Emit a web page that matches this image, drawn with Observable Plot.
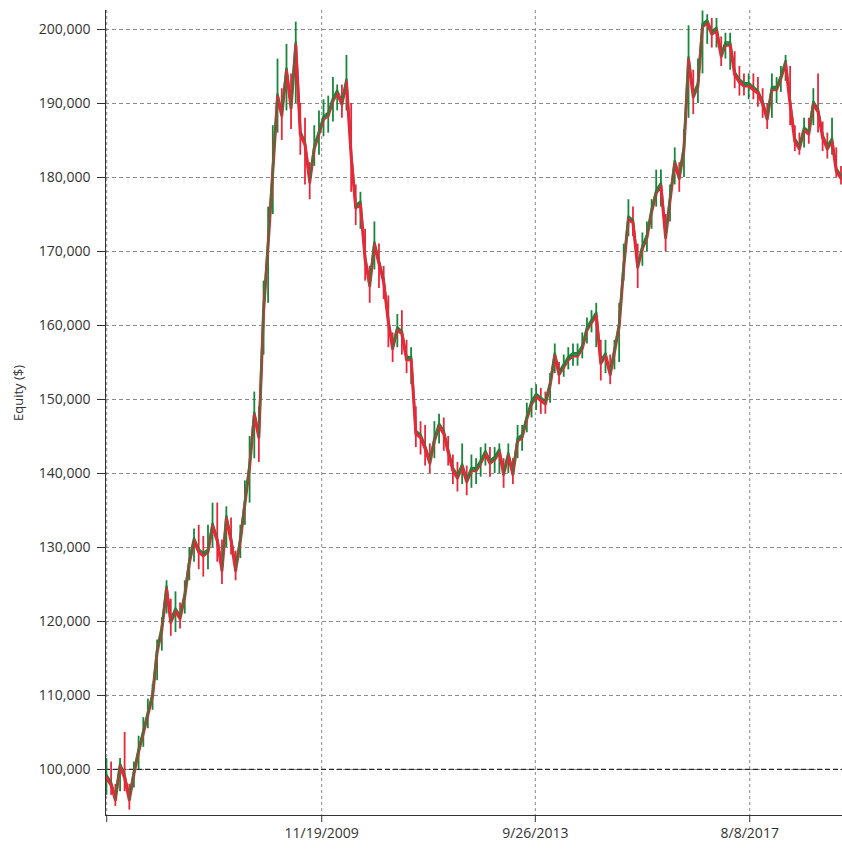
<!DOCTYPE html>
<html>
<head>
<meta charset="utf-8">
<script src="https://cdn.jsdelivr.net/npm/d3@7"></script>
<script src="https://cdn.jsdelivr.net/npm/@observablehq/plot@0.6"></script>
<style>
  html, body { margin: 0; padding: 0; background: #fff; }
  #chart svg { display: block; }
</style>
</head>
<body>
<div id="chart"></div>
<script>
// Monthly equity (in $ thousands), Jan 2006 .. Apr 2019
const close2006 = [99, 98, 96, 100.5, 99, 96, 99.5, 102.5, 105, 107.5, 110, 116];
const close2007 = [119, 124.5, 120, 121.5, 120.5, 123.5, 128, 131, 129.5, 129, 129.5, 133];
const close2008 = [131, 127, 134, 131, 127, 131, 136, 141, 148, 145, 162, 171];
const close2009 = [181, 191, 188.5, 194.5, 189.5, 198, 186, 184.5, 179.5, 184, 186, 188];
const close2010 = [188.5, 190.5, 191.5, 190, 193, 183, 176, 176.5, 169, 165.5, 171, 168.5];
const close2011 = [166, 160.5, 157, 159.5, 159, 155.5, 155.5, 145.5, 145, 143.5, 141.5, 144.5];
const close2012 = [146.5, 145.5, 143, 140.5, 139.5, 141, 139, 140.5, 140.5, 141.5, 142.8, 141.5];
const close2013 = [142, 143, 140, 142.5, 140, 144.5, 145, 147.5, 149.5, 150.5, 150, 149.5];
const close2014 = [152, 156, 153.5, 154.5, 155.5, 156, 156, 157, 159.5, 160.5, 161.5, 155];
const close2015 = [156, 153.5, 156.5, 160, 168, 174.5, 174, 168, 170.5, 172, 175.5, 178];
const close2016 = [179, 172, 177, 182, 180, 184, 196, 191, 192.5, 200.5, 201, 199.5];
const close2017 = [200, 196.5, 198, 198, 194, 193, 192.5, 192.5, 192, 191.5, 190, 188];
const close2018 = [192, 192, 193.5, 195.5, 190, 185, 184, 186.5, 186, 190, 189, 185.5];
const close2019 = [184, 185, 181, 180];

// Monthly highs (in $ thousands)
const high2006 = [101.5, 101, 98, 101.5, 105, 98, 101, 104.5, 107, 109.5, 111.5, 117.5];
const high2007 = [120.5, 125.5, 123, 124, 122.5, 125.5, 130, 132.5, 133, 131.5, 133, 136];
const high2008 = [136, 131, 135.5, 134, 129.5, 133, 139, 145, 151, 149, 166, 176];
const high2009 = [187, 196, 192, 198, 194, 201, 190, 188, 182, 187, 189, 190.5];
const high2010 = [191, 193.5, 192.5, 192.5, 196.5, 190, 179, 178, 173, 168, 174, 171];
const high2011 = [168, 164, 159, 161.5, 162, 158, 157, 149, 147, 146.5, 144, 147];
const high2012 = [148, 147.5, 145, 142.5, 141.5, 144, 141, 142.5, 142, 143.5, 144, 143.5];
const high2013 = [143.5, 144, 142, 144, 142, 146.5, 146.5, 149.5, 151.5, 152, 151.5, 151];
const high2014 = [153.5, 157.5, 155, 156, 157, 157.5, 157.5, 159, 161, 162, 163, 158];
const high2015 = [158, 156, 158, 163, 171, 177, 176, 171, 172.5, 174, 177, 181];
const high2016 = [181, 175, 179, 184, 182, 186.5, 200.5, 194.5, 196, 202.5, 202, 201.5];
const high2017 = [201.5, 199, 199.5, 199.5, 197, 195, 194, 194, 194, 193.5, 192, 190];
const high2018 = [194, 193.5, 195, 196.5, 195, 187, 186, 188, 188, 192, 194, 187.5];
const high2019 = [186, 188, 184, 181.5];

// Monthly lows (in $ thousands)
const low2006 = [96.5, 96.5, 95, 97, 97, 94.5, 97.5, 100, 103, 105.5, 108, 112];
const low2007 = [116, 121, 118, 118.5, 119, 121, 125.5, 128, 127, 126, 127, 130];
const low2008 = [128, 125, 130, 129, 125.5, 128.5, 133, 136, 142, 141.5, 156, 163];
const low2009 = [175, 186, 185, 189, 186.5, 190, 183, 179, 177, 181.5, 183, 185.5];
const low2010 = [186, 187.5, 189, 188, 189, 178, 173.5, 173, 166, 163, 167.5, 165];
const low2011 = [163.5, 157, 155, 157, 156, 153.5, 152, 143.5, 142.5, 141, 140, 142];
const low2012 = [144, 143, 141, 138.5, 137.5, 138.5, 137, 138, 138.5, 139.5, 141, 139.5];
const low2013 = [140, 140, 138, 140, 138.5, 142, 143, 145.5, 147.5, 148.5, 148, 148];
const low2014 = [149.5, 153.5, 152, 153, 154, 154.5, 154.5, 155.5, 157.5, 159, 157, 152.5];
const low2015 = [153.5, 152, 154, 155, 166, 172, 172, 165, 168, 170, 173, 176];
const low2016 = [176, 170, 174, 179, 178, 180, 188, 188.5, 190, 194, 198, 197.5];
const low2017 = [197.5, 195, 196, 194.5, 192, 191, 191, 190.5, 190.5, 189.5, 188, 186.5];
const low2018 = [188, 190, 191.5, 193, 187, 183.5, 183, 184, 184.5, 187, 186, 183.5];
const low2019 = [182.5, 183, 180, 179];

const closeK = [].concat(close2006, close2007, close2008, close2009, close2010, close2011,
  close2012, close2013, close2014, close2015, close2016, close2017, close2018, close2019);
const highK = [].concat(high2006, high2007, high2008, high2009, high2010, high2011,
  high2012, high2013, high2014, high2015, high2016, high2017, high2018, high2019);
const lowK = [].concat(low2006, low2007, low2008, low2009, low2010, low2011,
  low2012, low2013, low2014, low2015, low2016, low2017, low2018, low2019);

const months = d3.utcMonth.range(new Date(Date.UTC(2006, 0, 1)), new Date(Date.UTC(2019, 4, 1)));

// Axis ticks
const xTickDates = ["2006-01-03", "2009-11-19", "2013-09-26", "2017-08-08"];
const xTickLabels = ["", "11/19/2009", "9/26/2013", "8/8/2017"];
const yTicks = [100000, 110000, 120000, 130000, 140000, 150000, 160000, 170000, 180000, 190000, 200000];

const xTicks = xTickDates.map(s => new Date(s + "T00:00:00Z"));
const labelByTime = new Map(xTicks.map((d, i) => [+d, xTickLabels[i]]));

const data = months.map((d, i) => ({
  date: d, close: closeK[i] * 1000, high: highK[i] * 1000, low: lowK[i] * 1000,
  up: i === 0 ? true : closeK[i] >= closeK[i - 1]
}));
const segs = data.slice(1).map((d, i) => ({
  x1: data[i].date, y1: data[i].close, x2: d.date, y2: d.close, up: d.up
}));

const green = "#17873b";
const red = "#e8283a";

const chart = Plot.plot({
  width: 842,
  height: 851,
  marginLeft: 105,
  marginRight: 0,
  marginTop: 10,
  marginBottom: 36,
  style: {fontFamily: "'Open Sans', 'Noto Sans', sans-serif", fontSize: "14px", color: "#333", background: "#fff"},
  x: {type: "utc", domain: [new Date("2005-12-26T00:00:00Z"), new Date("2019-04-11T00:00:00Z")]},
  y: {domain: [93780, 202570]},
  marks: [
    Plot.gridY(yTicks, {stroke: "#8a8a8a", strokeOpacity: 1, strokeDasharray: "4,3"}),
    Plot.ruleY([100000], {stroke: "#2a2a2a", strokeDasharray: "5,3", strokeWidth: 1.3}),
    Plot.gridX(xTicks, {stroke: "#8a8a8a", strokeOpacity: 1, strokeDasharray: "3,3"}),
    Plot.ruleX(data, {x: "date", y1: "low", y2: "high", stroke: d => d.up ? green : red, strokeWidth: 1.8}),
    Plot.line(data, {x: "date", y: "close", stroke: green, strokeWidth: 2.4, dy: -1.8}),
    Plot.line(data, {x: "date", y: "close", stroke: red, strokeWidth: 3, dy: 1}),
    Plot.link(segs, {x1: "x1", y1: "y1", x2: "x2", y2: "y2",
      stroke: d => d.up ? green : red, strokeWidth: 1.3, strokeLinecap: "round"}),
    Plot.frame({anchor: "left", stroke: "#333"}),
    Plot.frame({anchor: "bottom", stroke: "#333"}),
    Plot.axisY(yTicks, {anchor: "left", tickSize: 8, tickPadding: 7,
      tickFormat: d3.format(","), label: null, fontSize: 14, color: "#333"}),
    Plot.axisX(xTicks, {anchor: "bottom", tickSize: 7, tickPadding: 6,
      tickFormat: d => labelByTime.get(+d), label: null, fontSize: 14, color: "#333"}),
    Plot.text(["Equity ($)"], {frameAnchor: "left", dx: -87, dy: 8, rotate: -90,
      text: d => d, fontSize: 13, fill: "#333"})
  ]
});

document.getElementById("chart").appendChild(chart);
</script>
</body>
</html>
